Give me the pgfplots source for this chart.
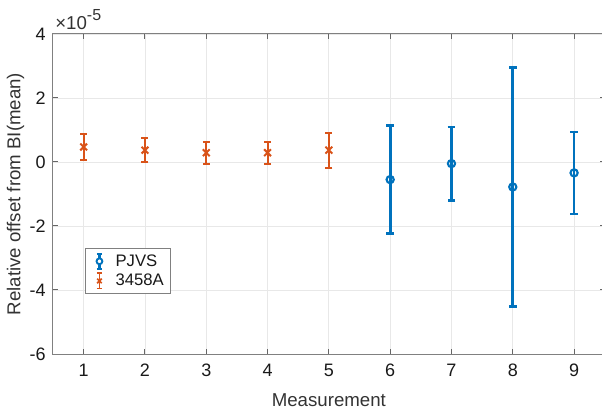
\documentclass[border=0pt]{standalone}
\usepackage{pgfplots}
\pgfplotsset{compat=1.18}
\usepackage{pgfplotstable}
\usepackage{fontspec}
\setmainfont{Liberation Sans}
\definecolor{mblue}{rgb}{0,0.447,0.741}
\definecolor{morange}{rgb}{0.85,0.325,0.098}

\pgfplotstableread{
x y err
6 -0.55 1.69
7 -0.05 1.145
8 -0.78 3.73
9 -0.34 1.28
}\pjvs
\pgfplotstableread{
x y err
1 0.47 0.40
2 0.37 0.375
3 0.29 0.345
4 0.29 0.345
5 0.37 0.545
}\meter

\begin{document}
\begin{tikzpicture}
\begin{axis}[
  name=ax,
  at={(0,0)}, anchor=south west,
  scale only axis,
  width=413.8pt, height=240pt,
  xmin=0.5, xmax=9.5, ymin=-6, ymax=4,
  xtick={1,...,9}, ytick={-6,-4,-2,0,2,4},
  /pgf/number format/assume math mode=true,
  tick label style={font=\fontsize{13.5pt}{15pt}\selectfont},
  xticklabel style={yshift=-4pt},
  yticklabel style={xshift=-2pt},
  scaled y ticks=false,
  clip=false,
  grid=major,
  major grid style={color=black!9, line width=0.6pt},
  axis line style={black!50, line width=0.75pt},
  tick style={black!60, line width=0.75pt},
  major tick length=3.75pt,
  tick align=inside,
  xlabel={Measurement},
  ylabel={Relative offset from BI(mean)},
  label style={font=\fontsize{14pt}{16pt}\selectfont, text=black!80},
  xlabel style={at={(axis description cs:0.5,-0.144)}, anchor=center},
  ylabel style={at={(axis description cs:-0.068,0.5)}, anchor=center},
  ticklabel style={text=black!90},
  legend cell align=left,
  legend style={at={(axis cs:1.022,-2.69)}, anchor=north west,
    draw=black!50, line width=0.6pt, fill=white,
    font=\fontsize{12.5pt}{14pt}\selectfont, text=black!90,
    inner xsep=2pt, inner ysep=2.5pt, row sep=0.5pt,
    nodes={inner xsep=3pt}},
]
\addplot[color=mblue, only marks, line width=2pt,
  mark=o, mark size=2.7pt, mark options={line width=1.6pt},
  legend image code/.code={
    \path[draw=none, fill=none] (0cm,0cm) -- (0.62cm,0cm);
    \draw[mblue, line width=1.6pt] (0.3cm,-0.2cm) -- (0.3cm,0.2cm);
    \draw[mblue, line width=1.6pt] (0.23cm,0.2cm) -- (0.37cm,0.2cm);
    \draw[mblue, line width=1.6pt] (0.23cm,-0.2cm) -- (0.37cm,-0.2cm);
    \draw[mblue, line width=1.4pt, fill=white] (0.3cm,0cm) circle (2.2pt);
  },
  error bars/.cd, y dir=both, y explicit,
  error bar style={line width=2pt, color=mblue},
  error mark options={rotate=90, mark size=2.8pt, line width=2pt, color=mblue}]
  table[x=x, y=y, y error=err] {\pjvs};
\addlegendentry{PJVS}
\addplot[color=morange, only marks, line width=1.5pt,
  mark=x, mark size=3.6pt, mark options={line width=1.5pt},
  legend image code/.code={
    \path[draw=none, fill=none] (0cm,0cm) -- (0.62cm,0cm);
    \draw[morange, line width=1.3pt] (0.3cm,-0.2cm) -- (0.3cm,0.2cm);
    \draw[morange, line width=1.3pt] (0.23cm,0.2cm) -- (0.37cm,0.2cm);
    \draw[morange, line width=1.3pt] (0.23cm,-0.2cm) -- (0.37cm,-0.2cm);
    \draw[morange, line width=1.3pt] (0.24cm,-0.06cm) -- (0.36cm,0.06cm);
    \draw[morange, line width=1.3pt] (0.24cm,0.06cm) -- (0.36cm,-0.06cm);
  },
  error bars/.cd, y dir=both, y explicit,
  error bar style={line width=1.5pt, color=morange},
  error mark options={rotate=90, mark size=2.6pt, line width=1.5pt, color=morange}]
  table[x=x, y=y, y error=err] {\meter};
\addlegendentry{3458A}
\end{axis}
\node[anchor=base west, inner sep=0pt, text=black!80]
  at (ax.north west) [xshift=1.5pt, yshift=3pt]
  {\fontsize{14pt}{16pt}\selectfont ×10\raisebox{0.5em}{\fontsize{12pt}{13pt}\selectfont -5}};
\pgfresetboundingbox
\path[use as bounding box] (-39.75pt,-42pt) rectangle (411.75pt,265.5pt);
\end{tikzpicture}
\end{document}
